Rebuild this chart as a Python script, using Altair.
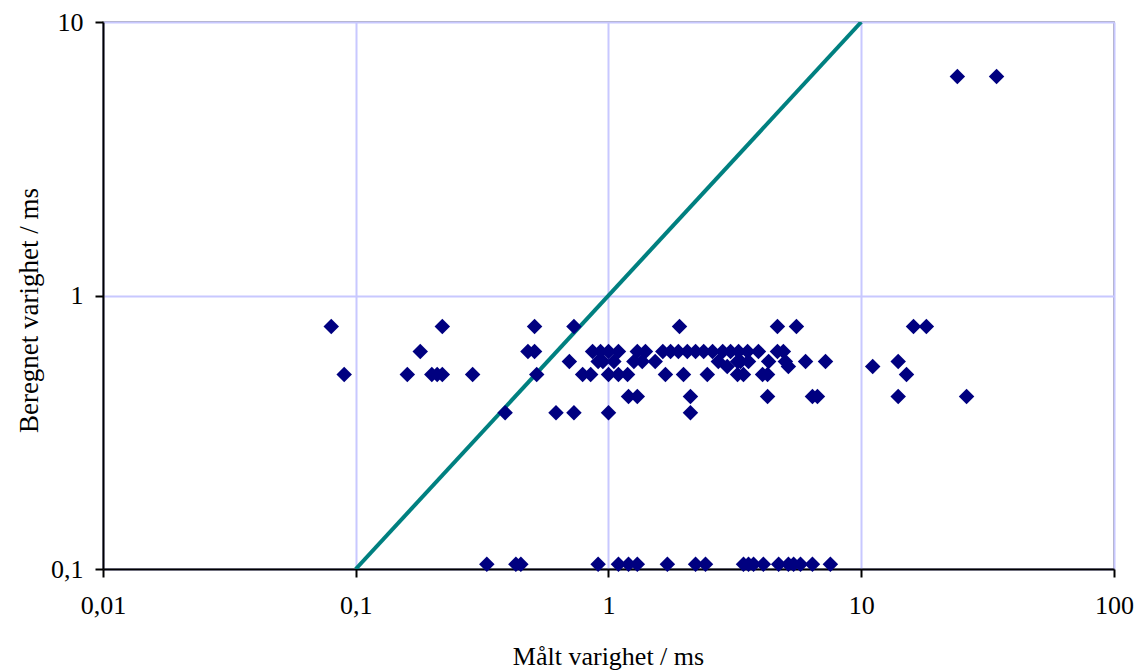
import altair as alt
import pandas as pd

# Measured duration (x) and computed duration (y), in ms
row_077_x = [0.080, 0.22, 0.51, 0.73, 1.91, 4.66, 5.54, 16.1, 18.1]
row_062_x = [0.18, 0.48, 0.51, 0.865, 0.93, 1.0, 1.095, 1.30, 1.40, 1.64, 1.76, 1.89,
             2.05, 2.21, 2.38, 2.58, 2.83, 3.04, 3.27, 3.55, 3.92, 4.66, 4.92]
row_057_x = [0.70, 0.91, 0.95, 1.05, 1.26, 1.36, 1.53, 2.72, 3.24, 3.33, 3.58, 4.30,
             5.01, 6.02, 7.22, 14.0]
row_055_x = [2.95, 5.15, 11.1]
row_051_x = [0.09, 0.16, 0.20, 0.21, 0.22, 0.29, 0.52, 0.79, 0.85, 1.0, 1.095, 1.19,
             1.68, 1.98, 2.46, 3.24, 3.42, 4.07, 4.26, 15.1]
row_043_x = [1.2, 1.30, 2.11, 4.26, 6.41, 6.71, 14.0, 26.1]
row_037_x = [0.39, 0.62, 0.73, 1.0, 2.11]
row_010_x = [0.33, 0.43, 0.45, 0.91, 1.095, 1.2, 1.30, 1.71, 2.21, 2.42, 3.42, 3.58,
             3.75, 4.10, 4.71, 5.15, 5.40, 5.75, 6.41, 7.55]
row_63_x = [24.0, 34.3]

rows = [
    (0.77, row_077_x), (0.624, row_062_x), (0.574, row_057_x), (0.55, row_055_x),
    (0.514, row_051_x), (0.427, row_043_x), (0.373, row_037_x), (0.104, row_010_x),
    (6.32, row_63_x),
]

measured = []
computed = []
for yv, xs in rows:
    measured += xs
    computed += [yv] * len(xs)

# reference line y = x
line_x = [0.1, 10]
line_y = [0.1, 10]

x_ticks = [0.01, 0.1, 1, 10, 100]
x_tick_labels = ["0,01", "0,1", "1", "10", "100"]
y_ticks = [0.1, 1, 10]
y_tick_labels = ["0,1", "1", "10"]

pts = pd.DataFrame({"x": measured, "y": computed})
ref = pd.DataFrame({"x": line_x, "y": line_y})


def label_expr(vals, labels):
    parts = []
    for v, l in zip(vals, labels):
        parts.append(f"abs(datum.value - {v}) < {v} * 0.001 ? '{l}'")
    return " : ".join(parts) + " : ''"


FONT = "Liberation Serif"

xscale = alt.Scale(type="log", domain=[0.01, 100], nice=False)
yscale = alt.Scale(type="log", domain=[0.1, 10], nice=False)

xaxis = alt.Axis(
    values=x_ticks, labelExpr=label_expr(x_ticks, x_tick_labels),
    title="Målt varighet / ms", titleX=505, titleY=87, titleBaseline="middle",
    titleAnchor="middle", labelFlush=False,
    labelPadding=15, tickSize=8,
)
yaxis = alt.Axis(
    values=y_ticks, labelExpr=label_expr(y_ticks, y_tick_labels),
    title="Beregnet varighet / ms", titleX=-74, titleY=288, titleAngle=270,
    titleAlign="center", titleBaseline="middle", titleFontSize=27,
    labelPadding=12, tickSize=8, labelFlush=False,
)

line = alt.Chart(ref).mark_line(color="#008080", strokeWidth=4, clip=True).encode(
    x=alt.X("x:Q", scale=xscale, axis=xaxis),
    y=alt.Y("y:Q", scale=yscale, axis=yaxis),
)

points = alt.Chart(pts).mark_point(
    shape="diamond", filled=True, color="#000080", size=240, opacity=1
).encode(
    x=alt.X("x:Q", scale=xscale),
    y=alt.Y("y:Q", scale=yscale),
)

chart = (
    alt.layer(line, points)
    .properties(
        width=1011, height=547,
        autosize=alt.AutoSizeParams(type="none"),
        padding={"left": 103, "top": 22, "right": 22, "bottom": 101},
        background="white",
    )
    .configure_view(stroke="#888888", strokeWidth=1.5)
    .configure_axis(
        labelFont=FONT, titleFont=FONT, labelFontSize=26, titleFontSize=26,
        labelColor="black", titleColor="black", titleFontWeight="normal",
        domainColor="black", domainWidth=2, tickColor="black", tickWidth=2,
        gridColor="#C8C8FF", gridWidth=2,
    )
)

chart.save("out.html", embed_options={"renderer": "svg", "actions": False})
